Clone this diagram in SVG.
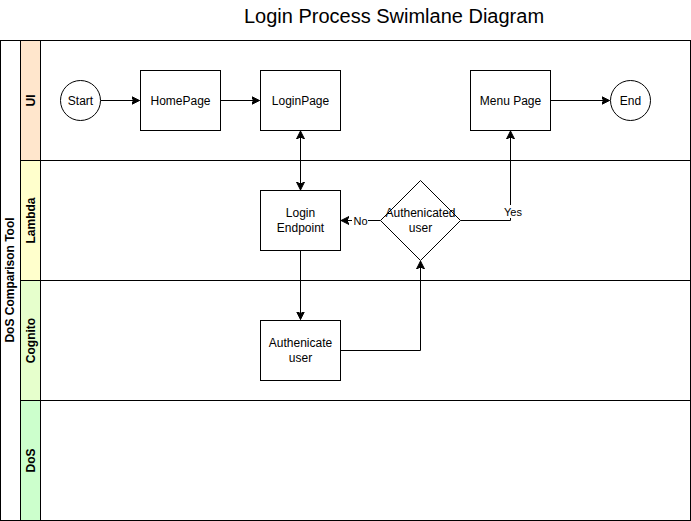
<svg xmlns="http://www.w3.org/2000/svg" width="691" height="521" viewBox="0 0 691 521">
<style>
.ln{fill:none;stroke:#000;stroke-width:1}
.bx{fill:#fff;stroke:#000;stroke-width:1}
.t{font-family:"Liberation Sans",Arial,sans-serif;font-size:12px;fill:#000;text-anchor:middle;dominant-baseline:central}
.h{font-family:"Liberation Sans",Arial,sans-serif;font-size:12px;font-weight:bold;fill:#000;text-anchor:middle;dominant-baseline:central}
.e{font-family:"Liberation Sans",Arial,sans-serif;font-size:11px;fill:#000;text-anchor:middle;dominant-baseline:central}
</style>
<defs>
<marker id="a" markerUnits="userSpaceOnUse" markerWidth="10" markerHeight="10" refX="8" refY="4" orient="auto-start-reverse" viewBox="0 0 10 8">
<path d="M0,0 L8,4 L0,8 L2,4 z" fill="#000" stroke="#000" stroke-width="1"/>
</marker>
</defs>
<rect width="691" height="521" fill="#fff"/>
<text x="394" y="16" font-family="Liberation Sans,Arial,sans-serif" font-size="20" text-anchor="middle" dominant-baseline="central">Login Process Swimlane Diagram</text>
<g id="pool">
<rect x="0.5" y="40.5" width="690" height="480" class="bx"/>
<line x1="20.5" y1="40.5" x2="20.5" y2="520.5" class="ln"/>
<text class="h" transform="translate(10 280) rotate(-90)">DoS Comparison Tool</text>
</g>
<g id="lane-ui">
<rect x="20.5" y="40.5" width="20" height="120" fill="#ffe6cc" stroke="#000"/>
<rect x="40.5" y="40.5" width="650" height="120" fill="none" stroke="#000"/>
<text class="h" transform="translate(30.5 100.5) rotate(-90)">UI</text>
</g>
<g id="lane-lambda">
<rect x="20.5" y="160.5" width="20" height="120" fill="#ffffcc" stroke="#000"/>
<rect x="40.5" y="160.5" width="650" height="120" fill="none" stroke="#000"/>
<text class="h" transform="translate(30.5 220.5) rotate(-90)">Lambda</text>
</g>
<g id="lane-cognito">
<rect x="20.5" y="280.5" width="20" height="120" fill="#e6ffcc" stroke="#000"/>
<rect x="40.5" y="280.5" width="650" height="120" fill="none" stroke="#000"/>
<text class="h" transform="translate(30.5 340.5) rotate(-90)">Cognito</text>
</g>
<g id="lane-dos">
<rect x="20.5" y="400.5" width="20" height="120" fill="#ccffcc" stroke="#000"/>
<rect x="40.5" y="400.5" width="650" height="120" fill="none" stroke="#000"/>
<text class="h" transform="translate(30.5 460.5) rotate(-90)">DoS</text>
</g>
<g id="connectors">
<line x1="100.5" y1="100.5" x2="139.5" y2="100.5" class="ln" marker-end="url(#a)"/>
<line x1="220.5" y1="100.5" x2="259.5" y2="100.5" class="ln" marker-end="url(#a)"/>
<line x1="300.5" y1="131" x2="300.5" y2="190" class="ln" marker-start="url(#a)" marker-end="url(#a)"/>
<line x1="550.5" y1="100.5" x2="609.5" y2="100.5" class="ln" marker-end="url(#a)"/>
<line x1="300.5" y1="250.5" x2="300.5" y2="319.5" class="ln" marker-end="url(#a)"/>
<polyline points="340.5,350.5 420.5,350.5 420.5,261" class="ln" marker-end="url(#a)"/>
<line x1="380.5" y1="220.5" x2="341" y2="220.5" class="ln" marker-end="url(#a)"/>
<rect x="352" y="213" width="16" height="14" fill="#fff"/>
<text class="e" x="360.5" y="220.5">No</text>
<polyline points="460.5,220.5 510.5,220.5 510.5,131" class="ln" marker-end="url(#a)"/>
<rect x="502" y="205" width="22" height="13" fill="#fff"/>
<text class="e" x="513" y="211.5">Yes</text>
</g>
<g id="start"><circle cx="80.5" cy="100.5" r="20" class="bx"/><text class="t" x="80.5" y="100.5">Start</text></g>
<g id="homepage"><rect x="140.5" y="70.5" width="80" height="60" class="bx"/><text class="t" x="180.5" y="100.5">HomePage</text></g>
<g id="loginpage"><rect x="260.5" y="70.5" width="80" height="60" class="bx"/><text class="t" x="300.5" y="100.5">LoginPage</text></g>
<g id="menupage"><rect x="470.5" y="70.5" width="80" height="60" class="bx"/><text class="t" x="510.5" y="100.5">Menu Page</text></g>
<g id="end"><circle cx="630.5" cy="100.5" r="20" class="bx"/><text class="t" x="630.5" y="100.5">End</text></g>
<g id="loginendpoint"><rect x="260.5" y="190.5" width="80" height="60" class="bx"/><text class="t" x="300.5" y="213">Login</text><text class="t" x="300.5" y="228">Endpoint</text></g>
<g id="decision"><polygon points="420.5,180.5 460.5,220.5 420.5,260.5 380.5,220.5" class="bx"/><text class="t" x="420.5" y="213">Authenicated</text><text class="t" x="420.5" y="228">user</text></g>
<g id="authuser"><rect x="260.5" y="320.5" width="80" height="60" class="bx"/><text class="t" x="300.5" y="343">Authenicate</text><text class="t" x="300.5" y="358">user</text></g>
</svg>
